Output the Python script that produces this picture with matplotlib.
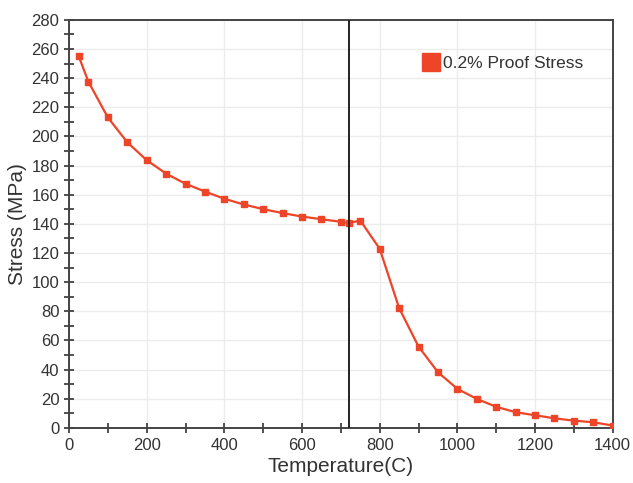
import matplotlib.pyplot as plt
from matplotlib.lines import Line2D
from matplotlib.ticker import MultipleLocator

plt.rcParams['font.family'] = ['Liberation Sans', 'DejaVu Sans']

temperature = [25, 50, 100, 150, 200, 250, 300, 350, 400, 450, 500, 550, 600, 650, 700, 720,
               750, 800, 850, 900, 950, 1000, 1050, 1100, 1150, 1200, 1250, 1300, 1350, 1400]
stress = [255, 237.5, 213, 196, 183.7, 174.5, 167.5, 162.2, 157.2, 153.3, 150.1, 147.4, 145, 143.2,
          141.4, 140.5, 142.3, 122.9, 82.2, 55.8, 38.2, 26.8, 19.9, 14.5, 10.8, 8.7, 6.6, 5, 3.9, 1.6]
marker_temp = 720
series_name = '0.2% Proof Stress'

red = '#ee4428'

fig = plt.figure(figsize=(6.33, 4.83), dpi=100)
ax = fig.add_axes([0.109, 0.114, 0.859, 0.845])

ax.plot(temperature, stress, color=red, lw=1.6, marker='s', markersize=4.5, zorder=3)
ax.axvline(marker_temp, color='#222222', lw=1.4, zorder=4)

ax.set_xlim(0, 1400)
ax.set_ylim(0, 280)
ax.xaxis.set_major_locator(MultipleLocator(200))
ax.xaxis.set_minor_locator(MultipleLocator(100))
ax.yaxis.set_major_locator(MultipleLocator(20))
ax.yaxis.set_minor_locator(MultipleLocator(10))
ax.grid(True, which='major', color='#ececec', lw=1.0)
ax.set_axisbelow(True)
ax.tick_params(which='both', direction='inout', length=7, width=1.2, colors='#333333',
               labelsize=12, labelcolor='#333333')
for s in ax.spines.values():
    s.set_color('#444444')
    s.set_linewidth(1.4)

ax.set_xlabel('Temperature(C)', fontsize=15, color='#333333', labelpad=3)
ax.set_ylabel('Stress (MPa)', fontsize=15, color='#333333', labelpad=3)

handle = Line2D([], [], color=red, marker='s', markersize=13, linestyle='None')
ax.legend([handle], [series_name], loc='upper right', bbox_to_anchor=(0.975, 0.95),
          frameon=False, fontsize=12.5, handlelength=0.8, handletextpad=0.3,
          labelcolor='#333333')

fig.savefig('out.png', dpi=100)
